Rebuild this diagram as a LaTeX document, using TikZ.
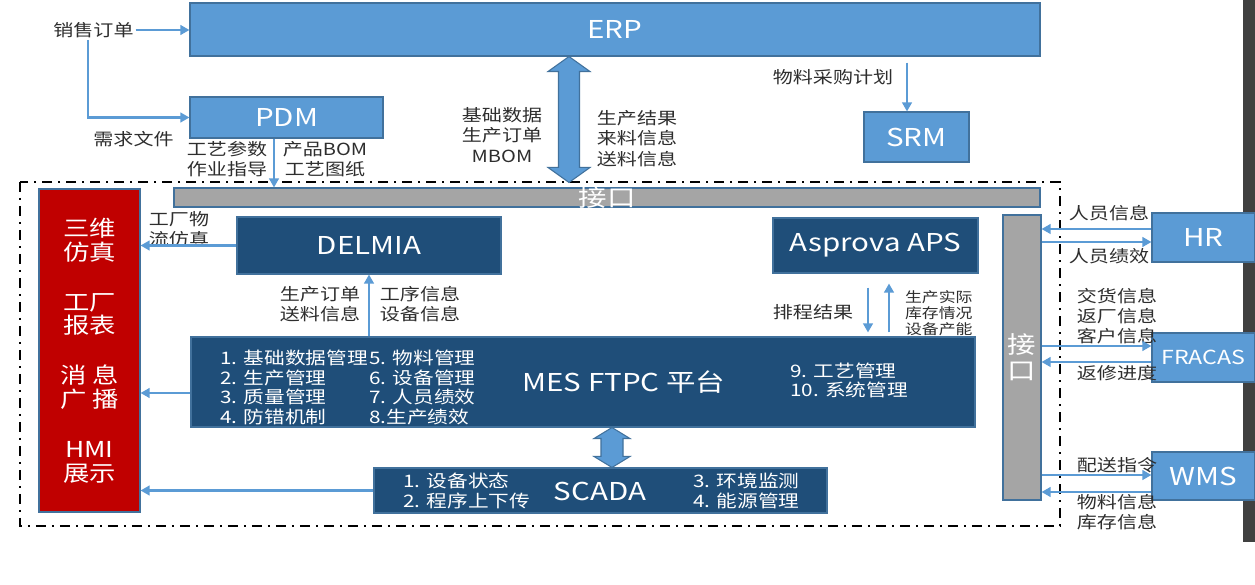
\documentclass[tikz,border=0pt]{standalone}
\usepackage{fontspec}
\setmainfont{Noto Sans CJK SC}[FakeStretch=1.2]
\usetikzlibrary{positioning, arrows.meta, calc}
\definecolor{erpblue}{HTML}{5B9BD5}
\definecolor{edgeblue}{HTML}{41719C}
\definecolor{mesblue}{HTML}{1F4E79}
\definecolor{simred}{HTML}{C00000}
\definecolor{ifgray}{HTML}{A5A5A5}
\definecolor{darkbar}{HTML}{404040}
\definecolor{lbltext}{HTML}{2E2E2E}

% vertical double block arrow: top tip, bottom tip, shaft half width, head half width, head length
\newcommand{\vdblarrow}[5]{%
  \draw[blockarr] (#1) -- ++(#4,-#5) -- ++(-#4+#3,0) -- ($(#2)+(#3,#5)$) -- ++(#4-#3,0) -- (#2)
    -- ++(-#4,#5) -- ++(#4-#3,0) -- ($(#1)+(-#3,-#5)$) -- ++(-#4+#3,0) -- cycle;}

\begin{document}
\begin{tikzpicture}[
  >={Triangle[length=1.8mm,width=1.9mm]},
  sz/.style 2 args = {minimum width=#1cm, minimum height=#2cm},
  sysbox/.style    = {inner sep=0pt, align=center, draw=edgeblue, line width=0.6pt, fill=erpblue, text=white, font=\fontsize{14}{16}\selectfont},
  appbox/.style    = {sysbox, fill=mesblue},
  simbox/.style    = {sysbox, fill=simred, font=\fontsize{12.5}{13.6}\selectfont},
  ifbar/.style     = {sysbox, fill=ifgray, font=\fontsize{13.5}{14.7}\selectfont},
  lbl/.style       = {align=center, inner sep=1pt, text=lbltext, font=\fontsize{9.5}{11.5}\selectfont},
  smalllbl/.style  = {lbl, font=\fontsize{8}{9}\selectfont},
  modlist/.style   = {anchor=west, align=left, inner sep=0pt, text=white, font=\fontsize{9.8}{11.3}\selectfont},
  arr/.style       = {->, line width=1.4pt, erpblue},
  blockarr/.style  = {fill=erpblue, draw=edgeblue, line width=0.6pt},
  dashframe/.style = {line width=1.4pt, dash pattern=on 0.2cm off 0.12cm on 0.04cm off 0.12cm},
]
  \fill[white] (0,0) rectangle (25.1,-11.7);
  \useasboundingbox (0,0) rectangle (25.1,-11.7);
  \node[fill=darkbar, inner sep=0pt, sz={0.24}{10.84}] (edge) at (24.98,-5.42) {};
  \draw[dashframe] (0.4,-3.64) rectangle (21.2,-10.52);

  % outer systems
  \node[sysbox, sz={17.0}{1.06}] (erp)    at (12.3,-0.59)  {ERP};
  \node[sysbox, sz={3.86}{0.82}] (pdm)    at (5.73,-2.35)  {PDM};
  \node[sysbox, sz={2.1}{1.0}]   (srm)    at (18.33,-2.74) {SRM};
  \node[sysbox, sz={2.06}{0.98}] (hr)     at (24.07,-4.75) {HR};
  \node[sysbox, sz={2.06}{0.98}, font=\fontsize{11}{13}\selectfont] (fracas) at (24.07,-7.15) {FRACAS};
  \node[sysbox, sz={2.06}{0.96}] (wms)    at (24.07,-9.52) {WMS};

  % interfaces
  \node[ifbar, sz={17.32}{0.38}] (ifbus)  at (12.14,-3.95) {};
  \node[ifbar, draw=none, fill=none] (ifbuslbl) at (ifbus) {接口};
  \node[ifbar, sz={0.76}{5.7}]   (ifside) at (20.44,-7.15) {接\\口};

  % shop floor
  \node[simbox, sz={2.02}{6.46}] (sim) at (1.79,-7.01)
    {三维\\仿真\\[14.7pt]工厂\\报表\\[14.7pt]消 息\\广 播\\[14.7pt]HMI\\展示};
  \node[appbox, sz={5.28}{1.14}]  (delmia) at (7.38,-4.91)  {DELMIA};
  \node[appbox, sz={4.1}{1.1}]    (aps)    at (17.51,-4.91) {Asprova APS};
  \node[appbox, sz={15.68}{1.8}]  (mes)    at (11.66,-7.64) {};
  \node[appbox, sz={9.06}{0.9}]   (scada)  at (12.01,-9.81) {};

  \node[sysbox, draw=none, fill=none] (mestitle) at (12.48,-7.64) {MES FTPC 平台};
  \node[modlist] (mescol1) at (4.4,-7.75)  {1. 基础数据管理\\2. 生产管理\\3. 质量管理\\4. 防错机制};
  \node[modlist] (mescol2) at (7.38,-7.75) {5. 物料管理\\6. 设备管理\\7. 人员绩效\\8.生产绩效};
  \node[modlist] (mescol3) at (15.8,-7.61) {9. 工艺管理\\10. 系统管理};
  \node[sysbox, draw=none, fill=none] (scadatitle) at (12.0,-9.82) {SCADA};
  \node[modlist] (scadacol1) at (8.06,-9.82)  {1. 设备状态\\2. 程序上下传};
  \node[modlist] (scadacol2) at (13.86,-9.82) {3. 环境监测\\4. 能源管理};

  % labels
  \node[lbl] (salesorder) at (1.87,-0.6)   {销售订单};
  \node[lbl] (reqdoc)     at (2.67,-2.79)  {需求文件};
  \node[lbl] (pdmleft)    at (4.54,-3.18)  {工艺参数\\作业指导};
  \node[lbl] (pdmright)   at (6.5,-3.18)   {产品BOM\\工艺图纸};
  \node[lbl] (erpdown)    at (10.04,-2.7)  {基础数据\\生产订单\\MBOM};
  \node[lbl] (erpup)      at (12.74,-2.77) {生产结果\\来料信息\\送料信息};
  \node[lbl] (purchase)   at (16.66,-1.54) {物料采购计划};
  \node[lbl] (logistics)  at (3.58,-4.59)  {工厂物\\流仿真};
  \node[lbl] (mesup1)     at (6.4,-6.08)   {生产订单\\送料信息};
  \node[lbl] (mesup2)     at (8.4,-6.08)   {工序信息\\设备信息};
  \node[lbl] (schedule)   at (16.26,-6.24) {排程结果};
  \node[smalllbl, anchor=west, align=left] (feedback) at (18.06,-6.26) {生产实际\\库存情况\\设备产能};
  \node[lbl] (hrin)       at (22.18,-4.26) {人员信息};
  \node[lbl] (hrout)      at (22.18,-5.12) {人员绩效};
  \node[lbl] (fracasout)  at (22.34,-6.32) {交货信息\\返厂信息\\客户信息};
  \node[lbl] (fracasin)   at (22.34,-7.46) {返修进度};
  \node[lbl] (wmsout)     at (22.34,-9.3)  {配送指令};
  \node[lbl] (wmsin)      at (22.34,-10.25) {物料信息\\库存信息};

  % block arrows
  \coordinate (erpdn) at ([xshift=-0.92cm]erp.south);
  \coordinate (busup) at ($(erpdn |- ifbus.north)+(0,0.1)$);
  \vdblarrow{erpdn}{busup}{0.21}{0.42}{0.3}
  \coordinate (mesdn) at ([xshift=0.58cm]mes.south);
  \coordinate (scadaup) at (mesdn |- scada.north);
  \vdblarrow{mesdn}{scadaup}{0.22}{0.36}{0.22}

  % connectors
  \draw[arr] (salesorder.east) -- (salesorder.east -| erp.west);
  \coordinate (salesdn) at ([xshift=-0.11cm]salesorder.south);
  \draw[arr] (salesdn) |- (pdm.west);
  \coordinate (pdmout) at ([xshift=-0.25cm]pdm.south);
  \draw[arr] (pdmout) -- (pdmout |- ifbus.north);
  \coordinate (srmin) at ([xshift=-0.19cm]srm.north);
  \draw[arr, shorten <=0.12cm] (srmin |- erp.south) -- (srmin);
  \draw[arr] (mes.north -| delmia.south) -- (delmia.south);
  \coordinate (apsdn) at ([xshift=-0.15cm]aps.south);
  \draw[arr, shorten <=0.28cm, shorten >=0.08cm] (apsdn) -- (apsdn |- mes.north);
  \coordinate (apsup) at ([xshift=0.27cm]aps.south);
  \draw[arr, shorten <=0.08cm, shorten >=0.2cm] (apsup |- mes.north) -- (apsup);
  \foreach \src/\dy in {delmia/0, mes/-0.22, scada/0}{
    \coordinate (p) at ([yshift=\dy cm]\src.west);
    \draw[arr] (p) -- (p -| sim.east);}
  \foreach \sys/\dy in {hr/0.17, fracas/-0.09, wms/-0.32}{
    \coordinate (p) at ([yshift=\dy cm]\sys.west);
    \draw[arr] (p) -- (p -| ifside.east);}
  \foreach \sys/\dy in {hr/-0.09, fracas/0.23, wms/0.02}{
    \coordinate (p) at ([yshift=\dy cm]\sys.west);
    \draw[arr] (p -| ifside.east) -- (p);}
\end{tikzpicture}
\end{document}
